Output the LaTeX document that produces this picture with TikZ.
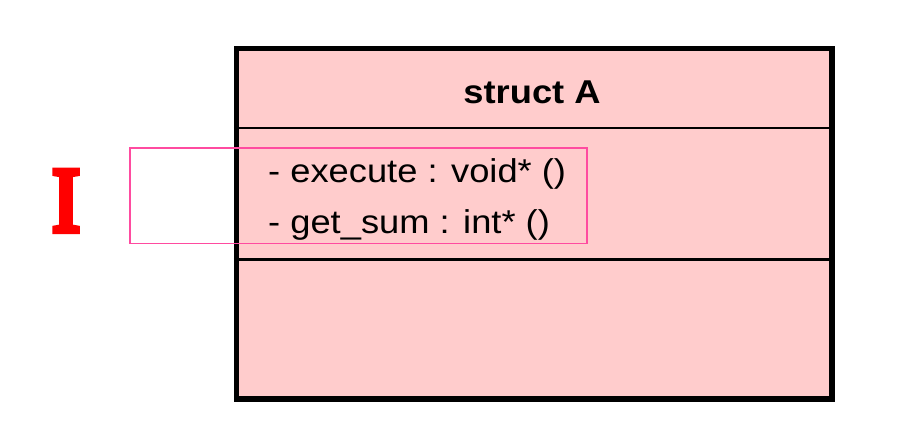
\documentclass[tikz,border=0pt]{standalone}
\usepackage{fontspec}
\setsansfont{Liberation Sans}
\newfontfamily\markfont[FakeBold=7]{Liberation Serif}
\definecolor{classfill}{RGB}{255,204,204}
\definecolor{selpink}{RGB}{255,75,160}
\definecolor{markred}{RGB}{255,0,0}
\begin{document}
\begin{tikzpicture}[x=1pt,y=-1pt,
  classbox/.style={draw=black,fill=classfill,line width=5.5pt,inner sep=0pt,
    minimum width=595.5pt,minimum height=350.5pt},
  divider/.style={draw=black,line width=2.2pt},
  titletext/.style={inner sep=0pt,font=\sffamily\bfseries\fontsize{33}{33}\selectfont,xscale=1.1},
  itemtext/.style={inner sep=0pt,font=\sffamily\fontsize{33}{33}\selectfont,xscale=1.1},
  selbox/.style={draw=selpink,line width=1.6pt},
  marker/.style={inner sep=0pt,text=markred,font=\markfont\fontsize{92}{92}\selectfont,xscale=0.9}]
\useasboundingbox (0,0) rectangle (904,442);
\fill[white] (0,0) rectangle (904,442);
\node[classbox] (box) at (534.25,223.75) {};
\coordinate (d1) at (0,128);
\coordinate (d2) at (0,259.5);
\draw[divider] (box.west |- d1) -- (box.east |- d1);
\draw[divider] (box.west |- d2) -- (box.east |- d2);
\node[titletext,anchor=base] (title) at (532,103) {struct A};
\node[itemtext,anchor=base west] (m1) at (268,182) {- execute : void* ()};
\node[itemtext,anchor=base west] (m2) at (268,233) {- get\_sum : int* ()};
\coordinate (s1) at (130,148);
\coordinate (s2) at (587,243.5);
\draw[selbox] (s1) rectangle (s2);
\node[marker,anchor=base] (mark) at (66,231) {I};
\end{tikzpicture}
\end{document}
